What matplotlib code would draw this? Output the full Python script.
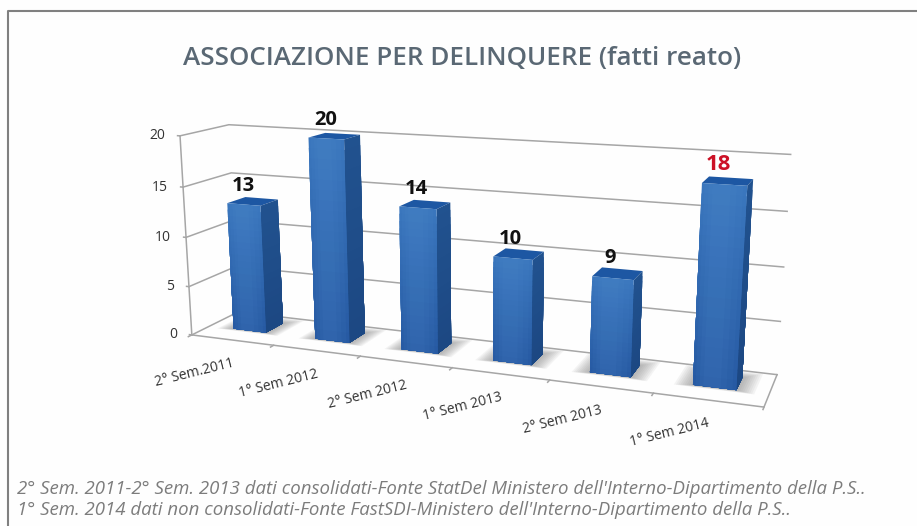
import numpy as np
import matplotlib
matplotlib.use("Agg")
import matplotlib.pyplot as plt
from matplotlib.colors import to_rgb
from matplotlib.lines import Line2D
from mpl_toolkits.mplot3d import proj3d
from mpl_toolkits.mplot3d.art3d import Poly3DCollection

categories = ["2° Sem.2011", "1° Sem 2012", "2° Sem 2012", "1° Sem 2013", "2° Sem 2013", "1° Sem 2014"]
values = [13, 20, 14, 10, 9, 18]
z_ticks = [0, 5, 10, 15, 20]
title = "ASSOCIAZIONE PER DELINQUERE (fatti reato)"
note1 = "2° Sem. 2011-2° Sem. 2013 dati consolidati-Fonte StatDel Ministero dell'Interno-Dipartimento della P.S.."
note2 = "1° Sem. 2014 dati non consolidati-Fonte FastSDI-Ministero dell'Interno-Dipartimento della P.S.."

plt.rcParams['font.family'] = ['Open Sans', 'DejaVu Sans']
W, H = 917, 526
elev, azim, roll, focal = 13.5859, -68.8485, 0.1201, float(np.exp(-1.0454))
box = (2.8041, 0.4316, 1.0)
cx, cy, S = 460.4431, 259.8863, 628.0278
bw, y0, y1 = 0.4033, 0.3799, 0.7718
GRID = '#a6a6a6'

fig = plt.figure(figsize=(W/100, H/100), dpi=100, facecolor='#fefefe')
fig.add_artist(Line2D([8/W, 8/W, 1], [0, 1-11/H, 1-11/H], color='#808080', lw=1.5))

ax = fig.add_axes([(cx-S/2)/W, (H-cy-S/2)/H, S/W, S/H], projection='3d', computed_zorder=False)
ax.set_xlim(0, 6, view_margin=0); ax.set_ylim(0, 1, view_margin=0); ax.set_zlim(0, 20, view_margin=0)
ax.view_init(elev=elev, azim=azim, roll=roll)
ax.set_proj_type('persp', focal_length=focal)
ax.set_box_aspect(box)
ax.set_axis_off()
ax.patch.set_alpha(0)
ax.apply_aspect()

def line(xs, ys, zs, **kw):
    ax.plot(xs, ys, zs, color=GRID, lw=1.1, zorder=1, clip_on=False, **kw)

def quad(verts, color, zorder, alpha=1.0):
    p = Poly3DCollection([verts], facecolors=[color], edgecolors='none', linewidths=0, alpha=alpha, zorder=zorder)
    p.set_clip_on(False)
    ax.add_collection3d(p, autolim=False)

for z in z_ticks:
    line([0, 0, 6], [0, 1, 1], [z, z, z])
    line([-0.03, 0], [0, 0], [z, z])
line([0, 6, 6], [0, 0, 1], [0, 0, 0])
line([0, 0], [0, 0], [0, 20])
for k in range(len(categories)+1):
    line([k, k], [0, -0.07], [0, 0])

def place(text, x, y, z, dx, dy, **kw):
    px, py, _ = proj3d.proj_transform(x, y, z, ax.get_proj())
    ax.annotate(text, xy=(px, py), xycoords='data', xytext=(dx*0.72, dy*0.72), textcoords='offset points',
                annotation_clip=False, **kw)

for z in z_ticks:
    place(str(z), 0, 0, z, -15, 0, ha='right', va='center', fontsize=10, color='#333333')
for i, c in enumerate(categories):
    place(c, i+0.5, 0, 0, -38, -33, ha='center', va='center', fontsize=10, rotation=14,
          rotation_mode='anchor', color='#333333')

light, dark = np.array(to_rgb('#3a76bd')), np.array(to_rgb('#2659a2'))
slight, sdark = np.array(to_rgb('#21528f')), np.array(to_rgb('#1c4782'))
for i, v in enumerate(values):
    x0 = i+0.5-bw/2
    x1 = x0+bw
    # soft shadow on the floor: nested translucent rectangles
    for g in np.linspace(1.0, 0.1, 9):
        ex, ey = 0.17*g, 0.2*g
        sy0, sy1 = y0-0.3*ey, min(y1+ey, 1.0)
        quad([(x0-ex, sy0, 0), (x1+ex, sy0, 0), (x1+ex, sy1, 0), (x0-ex, sy1, 0)], '#6e6e6e', 2, alpha=0.07)
    # top face
    quad([(x0, y0, v), (x1, y0, v), (x1, y1, v), (x0, y1, v)], '#1d57a3', 3)
    # right face and front face: overlapping bands for a vertical gradient
    for f in np.linspace(1.0, 0.05, 20):
        zt = v*f
        quad([(x1, y0, 0), (x1, y1, 0), (x1, y1, zt), (x1, y0, zt)], sdark+(slight-sdark)*f, 4)
        quad([(x0, y0, 0), (x1, y0, 0), (x1, y0, zt), (x0, y0, zt)], dark+(light-dark)*f, 4)
    # lighter central sheen of the front face
    for g in (0.85, 0.62, 0.4):
        quad([(x0+bw*0.4-bw*0.4*g, y0, 0), (x0+bw*0.4+bw*0.6*g, y0, 0),
              (x0+bw*0.4+bw*0.6*g, y0, v), (x0+bw*0.4-bw*0.4*g, y0, v)], '#5a96d8', 5, alpha=0.07)
    last = i == len(values)-1
    place(str(v), i+0.5, 0.5, v, -8 if last else -6, 18 if last else 17, ha='center', va='center',
          fontsize=16 if last else 14.5, fontweight='bold', color='#cc1126' if last else '#111111')

fig.text(462/W, 1-58.5/H, title, ha='center', va='center', fontsize=18.75, fontweight='semibold', color='#5a6874')
fig.text(17/W, 1-494/H, note1, ha='left', va='baseline', fontsize=13.4, style='italic', color='#7c7c7c')
fig.text(17/W, 1-515/H, note2, ha='left', va='baseline', fontsize=13.4, style='italic', color='#7c7c7c')
fig.savefig("out.png", dpi=100, facecolor=fig.get_facecolor())
